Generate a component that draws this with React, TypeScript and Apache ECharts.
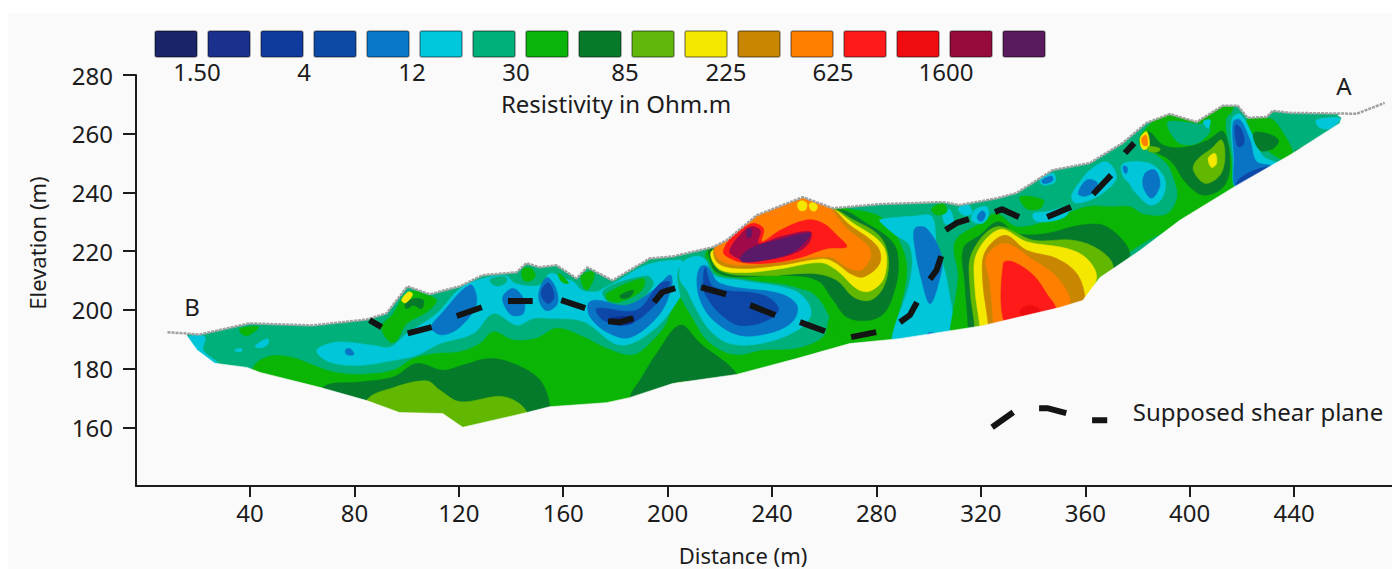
import React, { useEffect, useRef } from "react";
import * as echarts from "echarts";

type P = number[];

const xTicks = [40, 80, 120, 160, 200, 240, 280, 320, 360, 400, 440];
const yTicks = [160, 180, 200, 220, 240, 260, 280];
const legendTicks = ["1.50", "4", "12", "30", "85", "225", "625", "1600"];
const legendColors = ["#1a2468", "#1b2f8c", "#0f3a9e", "#0d4aa8", "#0a78c8", "#00c8dc", "#00b07a", "#0ab40a", "#067a2a", "#62b80a", "#f5e800", "#c98600", "#ff8000", "#ff1a1a", "#ee0c10", "#960a3c", "#5a1a5e"];

const TEAL = "#00b07a", GREEN = "#0ab505", DARK = "#057a2a", LIGHT = "#62b800", YELLOW = "#f5e800", OCHRE = "#c98600", ORANGE = "#ff8000", RED = "#ff1a1a", RED2 = "#ee0c10", CRIMSON = "#a00a48", PURPLE = "#5a1a6a", CYAN = "#00c6da", BLUE = "#0a74c4", DEEP = "#0d47a8", NAVY = "#0c2f90", PAGE = "#fafafa";

// ground surface (distance m, elevation m)
const surface: P[] = [[8.4,192.4],[20.7,191.6],[39.8,195.4],[64,194.7],[84.7,196.7],[92.3,198.8],[100.3,208],[108.8,205.3],[120.3,208],[129.1,211.8],[142.1,212.8],[145.9,215.9],[150.9,214.5],[157.4,215.2],[165.1,210.7],[169.3,214.5],[172.8,212.8],[178.9,210],[193.1,217.5],[201.9,218.2],[217.2,221.3],[222.6,223.7],[234.1,232.2],[251.8,238.4],[263.3,234.6],[281.2,236],[305.4,236.7],[311.9,235.7],[326.1,238],[333.7,239.8],[347.5,247.6],[361.7,250],[374.3,256.8],[383.5,263.7],[392.3,266.7],[402.7,264],[412.6,269.5],[418.4,269.5],[422.2,265.4],[429.5,265.7],[431.8,267.8],[438.3,267.1],[464,266.8],[474.7,270.5]];
// base of the resistivity section
const sectionBase: P[] = [[16.2,190.7],[19.7,186.3],[26.5,181.8],[38.8,180.4],[43.8,178.7],[66.7,173.6],[84.7,169.1],[97.3,165],[113.8,164.7],[121.5,160],[146,165],[154.8,167],[176.6,168.4],[185.4,170.1],[201.9,174.9],[226.4,178],[249.4,183.4],[269.7,188.5],[288.9,190.2],[320.7,194.6],[350.2,200.8],[359,203.2],[365.6,211],[380.9,220.2],[396.2,230.5],[418,242.4],[438.3,252.7],[457.5,263.6],[458.2,265.4],[456.7,266.4]];

const body: P[] = [[16,195],[100,215],[200,225],[300,245],[400,275],[474,275],[474,240],[300,170],[100,150],[16,180]];
const maskTop: P[] = [[0,192.4], ...surface, [477.5,271.5],[477.5,280],[0,280]];
const maskBottom: P[] = [[0,192.4],[8.4,192.4],[15.5,191.5], ...sectionBase, [458,267],[477.5,271.5],[477.5,141],[0,141]];

const greenLow: P[] = [[41.3,180.5],[47.6,184.2],[56.6,183.7],[64.2,181.1],[71.9,178.8],[82.1,178],[94.9,179.4],[102.6,183.4],[111.5,185.1],[120.5,185.7],[128.1,188.5],[133.2,192.5],[140.9,189.7],[149.8,190.3],[157.5,193.7],[167.7,190.8],[176.6,186.8],[186.9,184.6],[194.5,189.7],[199.6,195.4],[203.5,204.5],[207.9,200.5],[213.7,190.8],[221.3,185.7],[227.7,184.6],[236.7,186.2],[249.5,186.8],[259.7,190.8],[263,198],[276,192],[286.5,190.7],[286.5,180],[100,155],[40,170]];
const darkLow: P[] = [[68.1,173.7],[82.1,175.4],[94.9,177.1],[103.8,181.7],[114,179.4],[121.7,181.2],[132,183.4],[142.2,181.2],[151.1,176],[154.9,167.5],[154.9,160],[68,165]];
const lightLow: P[] = [[84.7,169.2],[94.9,173.5],[107.7,175.8],[112.8,172.6],[120.5,168.7],[137.1,170.4],[146,165.2],[146,155],[84.7,160]];
const darkMid: P[] = [[185.6,170.4],[189.4,176],[195.8,185.1],[204.8,194.8],[212.4,188.6],[226.5,178],[226,170],[186,165]];
const lightMid: P[] = [[202.2,174.7],[207.3,175.5],[209.9,174.9],[203.5,173.2]];

const cyanBand: P[] = [[65.5,186.2],[73.2,189],[87.2,187.9],[93.6,187.3],[100,191.9],[111.5,198.7],[120.5,207.3],[129.4,210.7],[138.3,211.5],[141.5,209],[151.1,208.4],[155,212.4],[160.1,210.7],[163.9,209.6],[167.1,206.7],[172.8,206.2],[175.4,207.3],[179.2,209],[192,215.3],[204.8,217],[206,215.8],[207.3,211.3],[204.8,204.5],[194.5,193.1],[181.8,188],[167.7,196],[154.9,197.1],[148.6,197.1],[142.2,194.8],[133.2,198.8],[125.6,192],[112.8,188.5],[103.8,184.5],[94.9,182.8],[82.1,181.1],[70.6,182.2]];
const cyanLeft: P[] = [[16.4,190.8],[22.7,190.8],[22.1,186.2],[27.8,181.7],[24.7,181.1],[19.5,185.6]];
const cyanSpot1: P[] = [[41.9,187.6],[46.6,190.2],[47,188.5],[44.4,187.1]];
const cyanSpot2: P[] = [[34.2,186.4],[36.8,186.8],[36.8,185.9],[34.6,185.9]];
const greenSpot: P[] = [[36.1,193.6],[43.2,194.2],[39.3,191.3],[36.8,191.9]];
const blueDot: P[] = [[76.6,186.4],[78.3,186.8],[79.8,184.8],[77,184.8]];
const humpGreen: P[] = [[90.4,194.2],[93.6,189],[96.2,189.6],[100,195.3],[107.7,199.3],[111.5,203.3],[106.4,205.5],[102.6,206.5],[98.7,204.4],[94.9,198.7]];
const humpDark: P[] = [[99.4,202.1],[102.6,203.8],[106.4,203.3],[105.7,200.4],[102.6,201.6],[100,200.4]];
const humpYellow: P[] = [[98.1,203.3],[100.6,206.1],[102.3,205.3],[99.7,202.4]];
const patchA: P[] = [[144.7,214.1],[147.9,214.1],[149.2,211.3],[146,209.6],[144.1,211.3]];
const patchB: P[] = [[132,210.4],[137.7,211.3],[138.3,209.6],[135.1,208.1],[132.6,209]];
const patchC: P[] = [[167.1,211.9],[171.5,213],[171.5,210.2],[169,206.7],[167.1,209]];
const patchD: P[] = [[158.1,212.4],[160.7,210.7],[162,209],[159.4,209.6]];
const patchE: P[] = [[175.4,206.7],[192,211.5],[194.5,208.5],[186.9,202.2],[177.9,202.2]];
const patchF: P[] = [[176.6,205.6],[190.7,210.7],[190.1,206.7],[181.8,202.8],[177.3,203.3]];
const patchG: P[] = [[181.8,205],[186.9,206.7],[185.6,204.5],[182.4,203.9]];

const blueA: P[] = [[109.6,194.7],[112.8,198.2],[124.3,208.5],[126.8,202.2],[120.5,194.2],[114,191.5],[110.2,192.8]];
const blueB: P[] = [[137.1,205],[140.9,207.3],[144.7,203.9],[144.7,198.8],[140.3,198.2],[137.1,202.2]];
const blueC: P[] = [[150.9,206.7],[153.7,211],[156.9,207.9],[157.8,202.2],[153.7,199.7],[150.9,202.8]];
const deepC: P[] = [[151.7,206.7],[154.3,209.2],[156.5,204.5],[154.3,202.2],[152.1,203.9]];
const blueD: P[] = [[169.6,202.2],[172.8,203.3],[184.3,201.6],[194.5,206.7],[200.9,211.9],[201.6,208.5],[197.1,198.8],[185.6,190.6],[176.6,192.5],[170.3,197.6]];
const deepD: P[] = [[172.8,200.5],[188.1,199.9],[197.1,209],[200.9,209.2],[194.5,201.1],[184.3,194.8],[175.4,196.5]];
const navyD: P[] = [[177.9,197.1],[186.9,197.6],[186.2,195.4],[177.9,195.4]];

const anomalyGreen: P[] = [[214.4,218.6],[217.6,222.6],[259.7,237.4],[266.1,235.1],[281.4,231.7],[287.8,224.9],[291.6,214.6],[289.1,201],[285.2,190.8],[269.9,187.4],[262.9,196.4],[258.4,203.3],[253.3,206.7],[229.1,210.7],[218.8,212.4],[215.7,216.9]];
const ringTeal: P[] = [[214.4,216.9],[217.6,211.8],[229.1,210],[248.2,207.8],[255.2,203.3],[255.9,196.4],[250.8,190.8],[236.7,186.8],[224,186.8],[215,190.8],[208.6,198.7],[204.8,205.5],[204.8,214.6]];
const anomalyDark: P[] = [[264.8,234],[276.3,229.4],[286.5,222.6],[288.4,214.6],[286.5,205.5],[282.7,198.7],[276.3,196.4],[268.6,197.6],[263.5,203.3],[257.2,210.1],[243.1,211.8],[226.5,211.2],[218.8,212.9],[216.3,216.9],[216.3,220.9]];
const anomalyLight: P[] = [[261,234.5],[271.2,230.6],[281.4,224.9],[284.6,216.9],[282.7,207.8],[277.6,203.3],[271.2,204.4],[264.8,210.1],[255.9,212.4],[236.7,211.6],[220.1,213.3],[217.2,219.8]];
const anomalyYellow: P[] = [[260.4,234.5],[271.2,229.4],[282.7,221.5],[283,211.2],[277.6,206.4],[272.5,207.2],[264.8,213.5],[258.4,216.1],[243.1,214],[229.1,212.7],[219.5,214.1],[217.2,220.3]];
const anomalyOchre: P[] = [[259.7,235.5],[269.9,228.8],[280.4,221.5],[281.2,215.8],[275,211.2],[269.9,212.4],[264.8,215.8],[259.7,217.5],[243.1,215.2],[227.8,214.1],[219.5,215.8],[217.6,220.3],[220.8,223]];
const anomalyOrange: P[] = [[219.8,223],[234.2,234],[249.5,240],[260.5,236],[268.6,227.7],[276.9,221.5],[277.6,217.5],[273.8,213.5],[268.6,214.6],[262.3,218],[243.1,216.3],[227.8,215.2],[220.1,216.9],[218,220.3]];
const bumpA: P[] = [[249.8,236.2],[251.4,237.2],[253.3,236.2],[252.7,234],[250.5,234]];
const bumpB: P[] = [[254.3,236],[255.9,236.5],[257.4,235.3],[256.5,233.7],[254.9,234]];
const anomalyRed: P[] = [[221.4,220.3],[224.6,224.9],[232.3,229.4],[236.7,227.7],[236.1,223.2],[243.1,227.1],[253.3,230.6],[259.7,229.4],[264.8,225.4],[268.6,221.5],[261,220.9],[249.5,217.5],[236.7,215.8],[227.8,216.3],[222,218.6]];
const anomalyCrimson: P[] = [[224,220.9],[227.1,224.9],[231.6,228.3],[235.4,227.1],[234.8,222.6],[243.1,224.9],[254.6,226.6],[254,222.6],[248.2,219.2],[236.7,216.9],[229.1,216.9],[224,219.2]];
const anomalyPurple: P[] = [[227.8,217.5],[231.6,220.9],[241.8,223.7],[254.6,226.2],[252.7,223.2],[246.9,219.2],[236.7,216.9],[229.1,216.3]];
const purpleDot: P[] = [[230.3,227.1],[231.9,227.7],[231.9,224.9],[230.6,224.6]];

const lensCyan: P[] = [[204.8,214.4],[206.7,216.9],[211.2,218.3],[214.4,217.1],[217.6,211.8],[229.1,209.9],[248.2,206.7],[254,202.1],[254.6,197.6],[249.5,193],[236.7,188.7],[224,188.5],[216.3,193],[210.5,201],[207.4,206.7],[204.8,210.1]];
const lensBlue: P[] = [[212.5,214.6],[215,214.9],[220.1,209],[243.1,205.5],[249.5,201.6],[248.2,196.4],[240.6,192.5],[227.8,191.3],[217.6,196.4],[212.5,203.3],[211.2,210.1]];
const lensDeep: P[] = [[214.4,214.4],[217.6,207.8],[236.7,205],[242.5,200.4],[238,196.4],[227.8,194.7],[220.1,198.7],[215,204.4],[213.7,207.8]];

const columnCyan: P[] = [[281.4,230.8],[294.2,231.9],[301.2,231.7],[303.1,221.5],[307,210.1],[308.2,190],[292.9,188],[286.5,188],[286.5,192.8],[292.9,210.1],[292.9,221.5],[286.5,226],[281.4,230]];
const columnBlue: P[] = [[294.7,227.7],[299.2,227.7],[305,218],[303.7,208.9],[300.5,202.1],[297.3,210.1],[294.7,221.4]];
const columnDot: P[] = [[299.9,192.2],[302.4,191.9],[301.5,190.8],[300,190.8]];

const rightGreen: P[] = [[308.2,193],[311.3,211.2],[310.1,223.2],[319.6,229.4],[326,232.8],[333.7,228.3],[346.5,230.5],[360.5,235.1],[370.7,235.1],[377.1,235.1],[382.2,232.6],[391.2,232.6],[395.3,238.5],[393.7,245.3],[391.2,249.9],[384.8,254.4],[381,256.1],[381.6,260],[392.4,268],[404,266],[407.8,268],[416.7,271],[414.2,261.3],[416.7,252.2],[418,241.9],[412.9,237.4],[396.3,229.4],[374.6,218],[365,205],[350,195],[320,190],[308.2,190]];
const topTeal: P[] = [[391.8,264.1],[404,263.3],[406.5,263.5],[407.8,260.7],[402.7,256.7],[396.3,256.7],[392.4,260.7]];
const topCyan: P[] = [[405.2,264.1],[407.8,264.7],[407.1,261.8]];
const topDark: P[] = [[384.1,260.7],[389.9,256.1],[397.6,255.3],[406.5,257.6],[412.9,260.7],[415.4,249.9],[412.9,241.9],[405.2,239.1],[398.8,243.1],[392.4,251],[381,256.7]];
const topLight: P[] = [[412.2,257.9],[413.5,252.2],[411.6,245.9],[405.9,243.1],[401.4,247.6],[402.7,251],[408.4,255]];
const topYellow: P[] = [[407.1,251.6],[409.7,253.3],[410.3,249.9],[408.4,248.5]];
const scarYellow: P[] = [[381,258.4],[383.5,260.7],[384.5,255.6],[382,254.7]];
const scarOrange: P[] = [[381.6,258.4],[383.3,259.5],[383.8,256.1],[382.2,256.1]];
const scarLight: P[] = [[384.1,255.6],[388.6,255],[388,253.9],[384.5,253.9]];

const wedgeDark: P[] = [[315.2,193.6],[313.9,208.9],[313.3,220.9],[319.6,225.4],[326.7,230],[333.7,226],[345.2,226],[358,228.8],[368.2,228.3],[377.1,219.2],[370.7,213.5],[365.6,208],[360.5,200],[350.3,196],[315,190]];
const wedgeLight: P[] = [[317.7,194.2],[315.8,207.8],[316.5,219.2],[326,228.3],[340.1,223.7],[355.4,223.7],[365.6,220.3],[370.7,214.6],[365.6,208],[360,200],[350,196],[318,190]];
const wedgeYellow: P[] = [[319.6,194.7],[317.7,207.8],[318.4,219.2],[327.3,227.4],[337.5,223.2],[352.9,220.9],[360.5,217.5],[364.3,211.2],[359.9,203.8],[352.9,197],[320,190]];
const wedgeOchre: P[] = [[322.8,195.3],[320.7,210],[321.6,219.7],[329.2,225.4],[337.5,220.3],[349,217.5],[356.7,212.4],[359.9,204.4],[358.6,202],[349,197],[323,190]];
const wedgeOrange: P[] = [[324.8,195.3],[323.5,209],[322.2,218],[329.2,222.6],[340.1,216.9],[349,211.2],[354.1,202.7],[347.7,198],[325,190]];
const wedgeRed: P[] = [[329.2,195],[328.6,215.8],[332.4,216.3],[340.1,211.8],[345.2,205.5],[348.4,200],[337.5,195]];
const wedgeCore: P[] = [[335,199.8],[338.8,201.5],[342.6,199.8],[340.1,198],[336.2,197]];

const spotCyan1: P[] = [[316.5,230.5],[317.7,234],[322.2,235.1],[322.8,231.7],[320.3,229.4]];
const spotBlue1: P[] = [[318.6,231.7],[320.3,233.7],[321.7,232.8],[320.9,230.5],[319.4,230.3]];
const spotCyan2: P[] = [[305.6,233.4],[308.2,234],[309.4,229.4],[306.2,229.4]];
const spotCyan3: P[] = [[311.3,234.5],[315.2,235.7],[316.5,232.8],[313.3,232.3]];
const spotGreen1: P[] = [[335,238.5],[343.9,237.4],[342.6,234.5],[337.5,234.5]];
const spotCyan4: P[] = [[340.1,232.8],[345.2,233.4],[354.1,235.1],[352.2,231.7],[345.2,230],[340.7,230.5]];
const spotCyan5: P[] = [[342.6,244.2],[347.7,246.5],[348.4,243.6],[343.9,242.5]];
const spotBlue5: P[] = [[343.3,244],[347.1,245.6],[347.5,244],[344.2,243]];
const spotGreen2: P[] = [[301.1,234.5],[305.6,236.2],[306.9,233.4],[303,232.3]];
const blobCyanA: P[] = [[354.8,239],[358,243.6],[361.8,247.6],[368.2,250.4],[372,245.3],[368.2,240.8],[361.8,237.4],[356,236.5]];
const blobBlueA: P[] = [[357.3,239.6],[360.5,244.2],[364.3,243.6],[364.3,240.8],[359.9,238.7]];
const blobCyanB: P[] = [[374,249.3],[378.4,250.5],[386,249.3],[390.5,244.2],[389.3,237.9],[384.8,235.7],[378.4,240.8],[376.9,243.1],[374.6,245.3]];
const blobBlueB: P[] = [[382.9,246.5],[386.7,247.6],[388.6,242.5],[385.4,238],[382.2,241.9]];
const blobBlueC: P[] = [[374.6,249],[376.1,248.5],[375.8,246.5],[374.8,247]];

const stripeTeal: P[] = [[414.2,265.2],[420.5,267.2],[426.9,259],[433.3,253.3],[437.1,250.5],[430.8,247.6],[418,241.4],[416.1,252.2]];
const stripeGreen: P[] = [[421.8,264.4],[430.8,265.2],[435.9,260.1],[439.7,252.7],[437.1,250.5],[426.9,256.7]];
const stripeCyan: P[] = [[416.1,264.7],[419.3,266.7],[424.4,259],[428.2,252.2],[434.6,249.3],[418,241.7],[416.7,252.2]];
const stripeBlue: P[] = [[416.7,264.1],[419.3,264.7],[423.1,257.8],[425.6,250.5],[432,248.7],[418,241.9],[417,252.2]];
const stripeDeep1: P[] = [[417.7,263],[419.9,261.3],[420.8,256.7],[418.6,255.6],[417.4,260.1]];
const stripeDeep2: P[] = [[418,242.2],[419.3,244.8],[426.9,248.2],[432,248.5]];
const stripeDark: P[] = [[424.4,260.1],[429.5,260.1],[434,257.8],[432,255],[426.9,254.4]];
const edgeDark: P[] = [[440.3,254.2],[446.1,256.1],[444.8,255],[441,253.3]];
const edgeYellow: P[] = [[446.1,255.8],[451.8,258.4],[451.2,257.3],[447.6,255.6]];
const edgeOrange: P[] = [[449.3,256.9],[452.1,258.4],[451.2,257.3],[449.9,256.7]];
const tipCyan: P[] = [[448.6,264.7],[457.6,265.2],[453.7,261.8],[449.3,262.4]];

const shearPlane: P[][] = [
  [[85.8,196.5],[90.4,194.1]],[[100.4,192],[109.6,194.1]],[[119.2,197.9],[128.8,200.9]],[[138.8,203],[148.3,203]],
  [[159.2,203.3],[168.4,200.6]],[[177.2,196.1],[181.8,195.8],[186.8,197.2]],[[194.8,202.6],[197.9,206],[202.9,207.4]],
  [[212.8,207.7],[222.4,205.3]],[[231.6,201.6],[241.2,198.2]],[[250.7,195.8],[260.3,192.7]],[[270.3,190.7],[279.9,192.4]],
  [[289,195.8],[292.8,198.2],[295.5,202.6]],[[300.5,210.4],[303,213.5],[304.8,218.3]],[[306.5,227.2],[310.7,229.6],[315.4,230.9]],
  [[325.4,233.3],[328.1,234.3],[334.6,231.6]],[[345.4,231.6],[354.5,235]],[[363,239.4],[369.9,245.9]],[[375.2,253.4],[378.7,256.8]],
];
const shearKey: P[][] = [[[324.3,160],[332.4,165.1]],[[342.3,166.5],[345.4,166.5],[352.7,164.8]],[[362.6,162.4],[368.4,162.4]]];

const layers: [P[], string][] = [
  [body, TEAL],
  [greenLow, GREEN],[darkLow, DARK],[lightLow, LIGHT],[darkMid, DARK],[lightMid, LIGHT],
  [cyanBand, CYAN],[cyanLeft, CYAN],[cyanSpot1, CYAN],[cyanSpot2, CYAN],[greenSpot, GREEN],[blueDot, BLUE],
  [humpGreen, GREEN],[humpDark, DARK],[humpYellow, YELLOW],
  [patchA, GREEN],[patchB, TEAL],[patchC, GREEN],[patchD, GREEN],[patchE, TEAL],[patchF, GREEN],[patchG, DARK],
  [blueA, BLUE],[blueB, BLUE],[blueC, BLUE],[deepC, DEEP],[blueD, BLUE],[deepD, DEEP],[navyD, NAVY],
  [anomalyGreen, GREEN],[ringTeal, TEAL],[lensCyan, CYAN],[lensBlue, BLUE],[lensDeep, DEEP],
  [anomalyDark, DARK],[anomalyLight, LIGHT],[anomalyYellow, YELLOW],[anomalyOchre, OCHRE],[anomalyOrange, ORANGE],[bumpA, YELLOW],[bumpB, YELLOW],
  [anomalyRed, RED],[anomalyCrimson, CRIMSON],[anomalyPurple, PURPLE],[purpleDot, PURPLE],
  [columnCyan, CYAN],[columnBlue, BLUE],[columnDot, BLUE],
  [rightGreen, GREEN],[topTeal, TEAL],[topCyan, CYAN],[topDark, DARK],[topLight, LIGHT],[topYellow, YELLOW],[scarYellow, YELLOW],[scarOrange, ORANGE],[scarLight, LIGHT],
  [wedgeDark, DARK],[wedgeLight, LIGHT],[wedgeYellow, YELLOW],[wedgeOchre, OCHRE],[wedgeOrange, ORANGE],[wedgeRed, RED],[wedgeCore, RED2],
  [spotCyan1, CYAN],[spotBlue1, BLUE],[spotCyan2, CYAN],[spotCyan3, CYAN],[spotGreen1, GREEN],[spotCyan4, CYAN],[spotCyan5, CYAN],[spotBlue5, BLUE],[spotGreen2, GREEN],
  [blobCyanA, CYAN],[blobBlueA, BLUE],[blobCyanB, CYAN],[blobBlueB, BLUE],[blobBlueC, BLUE],
  [stripeTeal, TEAL],[stripeGreen, GREEN],[stripeCyan, CYAN],[stripeBlue, BLUE],[stripeDeep1, DEEP],[stripeDeep2, DEEP],[stripeDark, DARK],
  [edgeDark, DARK],[edgeYellow, YELLOW],[edgeOrange, ORANGE],[tipCyan, CYAN],
  [maskTop, PAGE],[maskBottom, PAGE],
];
const angular = new Set<P[]>([body, maskTop, maskBottom]);

const FONT = "'Noto Sans', sans-serif";
const INK = "#1c1c1c";

export default function App() {
  const ref = useRef<HTMLDivElement>(null);
  useEffect(() => {
    const chart = echarts.init(ref.current, null, { renderer: "svg" });
    const text = (t: string, x: number, y: number, size = 24, extra: any = {}) => ({
      type: "text", x, y: y - 2, z: 20, ...extra,
      style: { text: t, fill: INK, font: `${size}px ${FONT}`, textAlign: "center", textVerticalAlign: "middle" },
    });
    const legendX = [197, 304, 412, 516, 625, 726, 833, 946];
    chart.setOption({
      animation: false,
      backgroundColor: "#ffffff",
      grid: { left: 136, right: 0, top: 75, bottom: 83 },
      xAxis: {
        type: "value", min: -3.68, max: 477.5, splitLine: { show: false }, z: 10,
        axisLine: { show: true, onZero: false, lineStyle: { color: INK, width: 2 } },
        axisTick: { show: true, length: 11, customValues: xTicks, lineStyle: { color: INK, width: 2 } },
        axisLabel: { customValues: xTicks, color: INK, fontFamily: FONT, fontSize: 24, margin: 14 },
      },
      yAxis: {
        type: "value", min: 140, max: 280, interval: 20, splitLine: { show: false }, z: 10,
        axisLine: { show: true, onZero: false, lineStyle: { color: INK, width: 2 } },
        axisTick: { show: true, length: 13, customValues: yTicks, lineStyle: { color: INK, width: 2 } },
        axisLabel: { customValues: yTicks, color: INK, fontFamily: FONT, fontSize: 24, margin: 23 },
      },
      graphic: [
        { type: "rect", z: -10, silent: true, shape: { x: 8, y: 13, width: 1384, height: 556 }, style: { fill: PAGE } },
        ...legendColors.map((c, i) => ({
          type: "rect", z: 20, shape: { x: 155 + i * 53, y: 31, width: 42, height: 26, r: 2 },
          style: { fill: c, stroke: "rgba(0,0,0,0.4)", lineWidth: 1.5 },
        })),
        ...legendTicks.map((t, i) => text(t, legendX[i], 73)),
        text("Resistivity in Ohm.m", 616, 105),
        text("A", 1344, 87),
        text("B", 192, 308),
        text("Supposed shear plane", 1258, 413),
        text("Elevation (m)", 37, 245, 22, { rotation: Math.PI / 2 }),
        text("Distance (m)", 743, 557, 22),
      ],
      series: [
        {
          type: "custom", coordinateSystem: "cartesian2d", clip: false, silent: true, z: 2,
          data: layers.map((l, i) => [l[0][0][0], l[0][0][1], i]),
          encode: { x: 0, y: 1 },
          renderItem: (params: any, api: any) => {
            const l = layers[params.dataIndex];
            return {
              type: "polygon",
              shape: { points: l[0].map((p) => api.coord(p)), smooth: angular.has(l[0]) ? 0 : 0.35 },
              style: { fill: l[1], stroke: l[1], lineWidth: 0.6 },
            };
          },
        },
        {
          type: "line", data: surface, z: 3, symbol: "none", silent: true,
          lineStyle: { color: "#a0a0a0", width: 2.5, type: [3, 1] },
        },
        ...[...shearPlane, ...shearKey].map((d) => ({
          type: "line", data: d, z: 4, symbol: "none", silent: true,
          lineStyle: { color: "#141414", width: 6, cap: "butt", join: "round" },
        })),
      ],
    });
    return () => chart.dispose();
  }, []);
  return <div ref={ref} style={{ position: "fixed", left: 0, top: 0, width: 1392, height: 569 }} />;
}
